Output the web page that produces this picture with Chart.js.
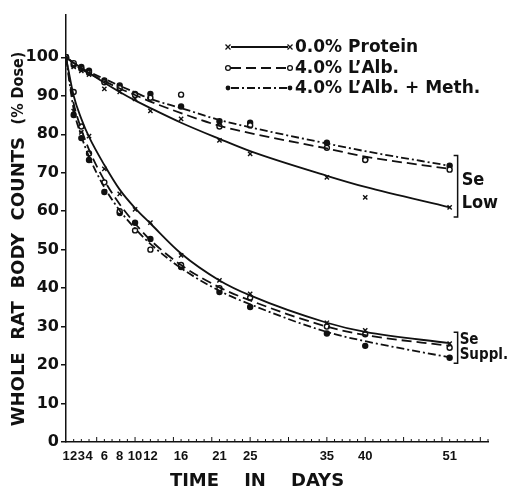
<!DOCTYPE html>
<html>
<head>
<meta charset="utf-8">
<script src="https://cdn.jsdelivr.net/npm/chart.js@4.4.1/dist/chart.umd.min.js"></script>
<style>
  html, body { margin: 0; padding: 0; background: #fff; }
  #wrap { width: 510px; height: 492px; position: relative; }
</style>
</head>
<body>
<div id="wrap"><canvas id="ratChart"></canvas></div>
<script>
// Sampling days (also the labelled x ticks)
const days = [1, 2, 3, 4, 6, 8, 10, 12, 16, 21, 25, 35, 40, 51];
const yTicks = [0, 10, 20, 30, 40, 50, 60, 70, 80, 90, 100];

// Se Low - fitted curves
const lowProteinLine = [100, 98.6, 97.2, 95.9, 93.4, 91.0, 88.8, 86.8, 83.0, 78.8, 75.6, 69.2, 66.3, 61.0];
const lowAlbLine     = [100, 98.4, 96.9, 95.8, 93.8, 91.9, 90.2, 88.5, 85.5, 82.2, 80.3, 76.3, 74.2, 71.0];
const lowMethLine    = [100, 98.6, 97.2, 96.2, 94.4, 92.6, 90.9, 89.2, 86.8, 83.7, 81.8, 77.6, 75.6, 71.8];
// Se Low - measured points
const lowProteinPts = [100, 97.5, 96.5, 95.5, 91.8, 91.0, 89.2, 86.1, 84.0, 78.4, 74.9, 68.8, 63.6, 61.0];
const lowAlbPts     = [100, 98.5, 97.0, 96.0, 93.5, 92.0, 90.2, 89.5, 90.3, 82.0, 82.3, 76.5, 73.3, 70.8];
const lowMethPts    = [100, 98.0, 97.5, 96.5, 94.0, 92.7, 90.5, 90.5, 87.2, 83.4, 83.0, 77.8, 73.5, 71.8];

// Se Suppl. - fitted curves
const supProteinLine = [100, 90.0, 84.0, 79.3, 72.0, 65.6, 60.8, 56.8, 49.0, 42.0, 38.1, 31.0, 28.6, 25.7];
const supAlbLine     = [100, 88.0, 81.3, 76.0, 68.0, 61.8, 56.8, 52.5, 46.0, 40.2, 36.8, 30.0, 27.8, 25.0];
const supMethLine    = [100, 86.5, 79.5, 74.2, 66.2, 60.2, 55.5, 51.5, 45.2, 39.3, 35.8, 28.6, 26.2, 22.0];
// Se Suppl. - measured points
const supProteinPts = [100, 86.0, 80.5, 79.5, 71.0, 64.5, 60.5, 57.0, 48.5, 42.0, 38.5, 31.0, 29.0, 25.6];
const supAlbPts     = [100, 91.0, 82.0, 75.0, 67.5, 60.0, 55.0, 50.0, 46.0, 40.0, 37.5, 30.0, 28.0, 24.5];
const supMethPts    = [100, 85.0, 79.0, 73.3, 65.0, 59.5, 57.0, 52.8, 45.5, 39.0, 35.1, 28.2, 25.0, 21.9];

const legendLabels = ['0.0% Protein', '4.0% L\u2019Alb.', '4.0% L\u2019Alb. + Meth.'];

const ink = '#111';
const dashes = [[], [10, 5], [8, 3, 2, 3]];
const markers = ['x', 'o', 'dot'];

const xy = arr => days.map((d, i) => ({ x: d, y: arr[i] }));

function lineSet(arr, k) {
    return {
        type: 'line', data: xy(arr), borderColor: ink, borderWidth: 1.8,
        borderDash: dashes[k], pointRadius: 0, fill: false,
        cubicInterpolationMode: 'monotone'
    };
}
function pointSet(arr, k) {
    return {
        type: 'scatter', data: xy(arr), borderColor: ink, borderWidth: 1.4,
        pointStyle: k === 0 ? 'crossRot' : 'circle',
        pointRadius: k === 0 ? 3 : 2.5,
        pointBackgroundColor: k === 1 ? '#fff' : ink
    };
}

function drawMarker(ctx, type, x, y) {
    ctx.save();
    ctx.setLineDash([]);
    ctx.lineWidth = 1.3;
    ctx.strokeStyle = ink;
    ctx.fillStyle = ink;
    if (type === 'x') {
        ctx.beginPath();
        ctx.moveTo(x - 2.5, y - 2.5); ctx.lineTo(x + 2.5, y + 2.5);
        ctx.moveTo(x + 2.5, y - 2.5); ctx.lineTo(x - 2.5, y + 2.5);
        ctx.stroke();
    } else {
        ctx.beginPath();
        ctx.arc(x, y, 2.4, 0, Math.PI * 2);
        if (type === 'o') { ctx.fillStyle = '#fff'; ctx.fill(); ctx.stroke(); }
        else ctx.fill();
    }
    ctx.restore();
}

const overlay = {
    id: 'overlay',
    afterDraw(chart) {
        const ctx = chart.ctx;
        const xs = chart.scales.x, ys = chart.scales.y;
        const area = chart.chartArea;
        ctx.save();
        ctx.strokeStyle = ink;
        ctx.fillStyle = ink;

        // small inward ticks on the time axis, one per day
        ctx.lineWidth = 1;
        for (let d = 2; d <= 56; d++) {
            const px = xs.getPixelForValue(d);
            const len = (d % 5 === 0) ? 5 : 3;
            ctx.beginPath();
            ctx.moveTo(px, area.bottom);
            ctx.lineTo(px, area.bottom - len);
            ctx.stroke();
        }

        // x title
        ctx.font = 'bold 18px "DejaVu Sans"';
        ctx.textAlign = 'center';
        ctx.textBaseline = 'middle';
        ctx.fillText('TIME    IN    DAYS', 257, 481);

        // y title (rotated)
        ctx.save();
        ctx.translate(19, 239);
        ctx.rotate(-Math.PI / 2);
        const mainTxt = 'WHOLE  RAT  BODY  COUNTS  ';
        const subTxt = '(% Dose)';
        ctx.font = 'bold 18px "DejaVu Sans"';
        const w1 = ctx.measureText(mainTxt).width;
        ctx.font = 'bold 16px "DejaVu Sans Condensed", "DejaVu Sans"';
        const w2 = ctx.measureText(subTxt).width;
        let sx = -(w1 + w2) / 2;
        ctx.textAlign = 'left';
        ctx.font = 'bold 18px "DejaVu Sans"';
        ctx.fillText(mainTxt, sx, 0);
        ctx.font = 'bold 16px "DejaVu Sans Condensed", "DejaVu Sans"';
        ctx.fillText(subTxt, sx + w1, 0);
        ctx.restore();

        // legend
        const rows = [47, 68, 88];
        ctx.font = 'bold 17px "DejaVu Sans"';
        ctx.textAlign = 'left';
        ctx.textBaseline = 'middle';
        rows.forEach((ry, k) => {
            ctx.save();
            ctx.lineWidth = 1.8;
            ctx.setLineDash(dashes[k]);
            ctx.beginPath();
            ctx.moveTo(231, ry);
            ctx.lineTo(288, ry);
            ctx.stroke();
            ctx.restore();
            drawMarker(ctx, markers[k], 228, ry);
            drawMarker(ctx, markers[k], 290, ry);
            ctx.fillText(legendLabels[k], 295, ry + 1);
        });

        // group brackets
        const bx = xs.getPixelForValue(51) + 8;
        function bracket(v1, v2) {
            const y1 = ys.getPixelForValue(v1), y2 = ys.getPixelForValue(v2);
            ctx.save();
            ctx.lineWidth = 1.5;
            ctx.setLineDash([]);
            ctx.beginPath();
            ctx.moveTo(bx - 4, y1); ctx.lineTo(bx, y1);
            ctx.lineTo(bx, y2); ctx.lineTo(bx - 4, y2);
            ctx.stroke();
            ctx.restore();
        }
        bracket(74.5, 58.5);
        bracket(28.5, 20.5);
        ctx.textAlign = 'left';
        ctx.font = 'bold 18px "Liberation Sans Narrow", "DejaVu Sans Condensed", sans-serif';
        ctx.fillText('Se', bx + 4, ys.getPixelForValue(68));
        ctx.fillText('Low', bx + 4, ys.getPixelForValue(62));
        ctx.font = 'bold 15px "Liberation Sans Narrow", "DejaVu Sans Condensed", sans-serif';
        ctx.fillText('Se', bx + 2, ys.getPixelForValue(26.6));
        ctx.fillText('Suppl.', bx + 2, ys.getPixelForValue(22.5));
        ctx.restore();
    }
};

const ratCtx = document.getElementById('ratChart').getContext('2d');

new Chart(ratCtx, {
    data: {
        datasets: [
            lineSet(lowProteinLine, 0), lineSet(lowAlbLine, 1), lineSet(lowMethLine, 2),
            lineSet(supProteinLine, 0), lineSet(supAlbLine, 1), lineSet(supMethLine, 2),
            pointSet(lowProteinPts, 0), pointSet(lowAlbPts, 1), pointSet(lowMethPts, 2),
            pointSet(supProteinPts, 0), pointSet(supAlbPts, 1), pointSet(supMethPts, 2)
        ]
    },
    options: {
        responsive: true,
        maintainAspectRatio: false,
        animation: false,
        layout: { padding: { top: 15, right: 22, left: 0, bottom: 0 } },
        plugins: { legend: { display: false }, tooltip: { enabled: false } },
        scales: {
            x: {
                type: 'linear',
                min: 1,
                max: 56,
                afterBuildTicks: s => { s.ticks = days.map(v => ({ value: v })); },
                afterFit: s => { s.height = 50; },
                grid: { drawOnChartArea: false, drawTicks: false },
                border: { color: ink, width: 1.5 },
                ticks: {
                    autoSkip: false, maxRotation: 0, padding: 7, color: ink,
                    font: { family: 'Liberation Sans', size: 13, weight: 'bold' }
                }
            },
            y: {
                min: 0,
                max: 111,
                afterBuildTicks: s => { s.ticks = yTicks.map(v => ({ value: v })); },
                afterFit: s => { s.width = 66; },
                grid: { drawOnChartArea: false, tickLength: 5, color: ink, lineWidth: 1.5 },
                border: { color: ink, width: 1.5 },
                ticks: {
                    padding: 2, color: ink,
                    font: { family: 'DejaVu Sans', size: 16, weight: 'bold' }
                }
            }
        }
    },
    plugins: [overlay]
});
</script>
</body>
</html>
